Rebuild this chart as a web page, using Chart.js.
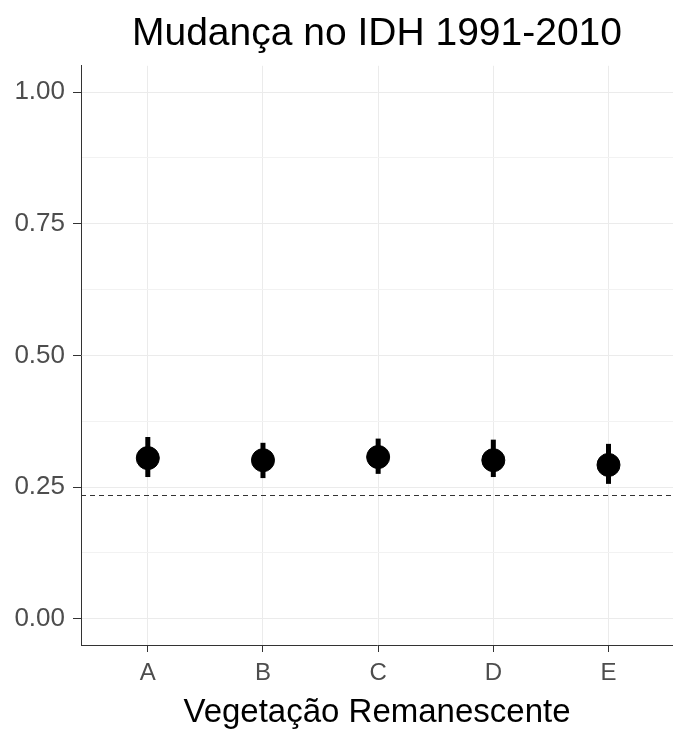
<!DOCTYPE html>
<html lang="pt">

<head>
    <title>Mudança no IDH</title>
    <meta charset="utf-8">
    <script src="https://cdn.jsdelivr.net/npm/chart.js"></script>
    <style>
        body { margin: 0; background: #fff; }
        #wrap { width: 673px; height: 729px; }
    </style>
</head>

<body>
    <div id="wrap"><canvas id="idhChart" width="673" height="729"></canvas></div>

    <script>
        // data
        const categories = ['A', 'B', 'C', 'D', 'E'];
        const means = [0.305, 0.301, 0.307, 0.301, 0.292];
        const lower = [0.269, 0.267, 0.275, 0.269, 0.256];
        const upper = [0.345, 0.334, 0.342, 0.340, 0.332];
        const refLine = 0.235;
        const yMajor = [0, 0.25, 0.5, 0.75, 1];
        const yMinor = [0.125, 0.375, 0.625, 0.875];

        const tickColor = '#4d4d4d';
        const fontFamily = 'Liberation Sans, Arial, sans-serif';

        // error bars and dashed reference line
        const extras = {
            id: 'extras',
            beforeDatasetsDraw(chart) {
                const { ctx, chartArea, scales } = chart;
                const x = scales.x, y = scales.y;
                ctx.save();
                ctx.strokeStyle = '#333';
                ctx.lineWidth = 1;
                ctx.setLineDash([5, 4]);
                const yr = Math.round(y.getPixelForValue(refLine)) + 0.5;
                ctx.beginPath();
                ctx.moveTo(chartArea.left, yr);
                ctx.lineTo(chartArea.right, yr);
                ctx.stroke();
                ctx.setLineDash([]);
                ctx.strokeStyle = '#000';
                ctx.lineWidth = 5;
                categories.forEach((c, i) => {
                    const px = x.getPixelForValue(i);
                    ctx.beginPath();
                    ctx.moveTo(px, y.getPixelForValue(lower[i]));
                    ctx.lineTo(px, y.getPixelForValue(upper[i]));
                    ctx.stroke();
                });
                ctx.restore();
            }
        };

        new Chart(document.getElementById('idhChart'), {
            type: 'scatter',
            data: {
                datasets: [{
                    data: means.map((v, i) => ({ x: i, y: v })),
                    backgroundColor: '#000',
                    borderColor: '#000',
                    pointRadius: 11.5,
                    pointHoverRadius: 11.5
                }]
            },
            options: {
                responsive: false,
                animation: false,
                layout: { padding: 0, autoPadding: false },
                plugins: {
                    legend: { display: false },
                    tooltip: { enabled: false },
                    title: {
                        display: true,
                        text: 'Mudança no IDH 1991-2010',
                        fullSize: false,
                        color: '#000',
                        font: { family: fontFamily, size: 39, weight: 'normal', lineHeight: 1.2 },
                        padding: { top: 11, bottom: 8 }
                    }
                },
                scales: {
                    x: {
                        type: 'linear',
                        // panel is cut off a little on the right in the original
                        min: -0.58,
                        max: 4.56,
                        afterBuildTicks: axis => { axis.ticks = categories.map((c, i) => ({ value: i })); },
                        afterFit: scale => {
                            scale.height = 84;
                            scale.paddingLeft = 0;
                            scale.paddingRight = 0;
                        },
                        ticks: {
                            callback: v => categories[v],
                            color: tickColor,
                            font: { family: fontFamily, size: 24 },
                            padding: 7,
                            maxRotation: 0
                        },
                        grid: { color: '#ebebeb', tickColor: '#333', tickLength: 7 },
                        border: { display: true, color: '#333', width: 1 },
                        title: {
                            display: true,
                            text: 'Vegetação Remanescente',
                            color: '#000',
                            font: { family: fontFamily, size: 33, lineHeight: 1.0 },
                            padding: { top: 0, bottom: 0 }
                        }
                    },
                    y: {
                        min: -0.05,
                        max: 1.05,
                        afterBuildTicks: axis => {
                            axis.ticks = yMajor.concat(yMinor).sort((a, b) => a - b).map(v => ({ value: v }));
                        },
                        afterFit: scale => {
                            scale.width = 81;
                            scale.paddingTop = 0;
                            scale.paddingBottom = 0;
                        },
                        ticks: {
                            callback: v => yMajor.includes(v) ? v.toFixed(2) : '',
                            color: tickColor,
                            font: { family: fontFamily, size: 26 },
                            padding: 8
                        },
                        grid: {
                            color: c => yMajor.includes(c.tick.value) ? '#ebebeb' : '#f2f2f2',
                            tickColor: c => yMajor.includes(c.tick.value) ? '#333' : 'rgba(0,0,0,0)',
                            tickLength: 8
                        },
                        border: { display: true, color: '#333', width: 1 }
                    }
                }
            },
            plugins: [extras]
        });
    </script>
</body>

</html>
